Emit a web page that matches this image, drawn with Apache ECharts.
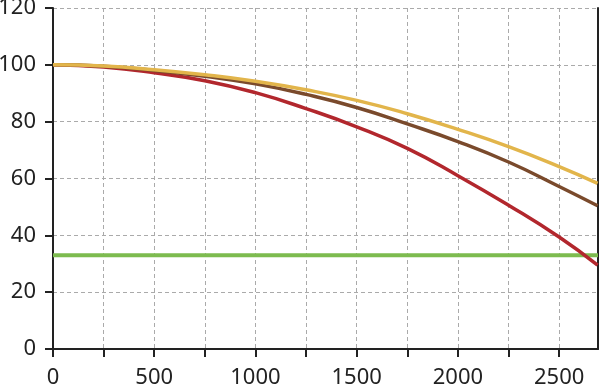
<!DOCTYPE html>
<html>
<head>
<meta charset="utf-8">
<script src="https://cdn.jsdelivr.net/npm/echarts@6/dist/echarts.min.js"></script>
<style>
html,body{margin:0;padding:0;background:#fff;}
#chart{width:600px;height:389px;}
</style>
</head>
<body>
<div id="chart"></div>
<script>
const xValues = [0, 250, 500, 750, 1000, 1250, 1500, 1750, 2000, 2250, 2500, 2690];
const yellowValues = [100, 99.6, 98.3, 96.5, 94.2, 91.2, 87.5, 82.8, 77.3, 71.2, 64.2, 58.3];
const brownValues  = [100, 99.5, 98.0, 96.0, 93.3, 89.6, 85.0, 79.2, 73.0, 65.8, 57.2, 50.4];
const redValues    = [100, 99.2, 97.2, 94.4, 90.2, 84.6, 78.2, 70.6, 61.0, 50.6, 39.4, 29.5];
const greenLevel = 33;
const xTickValues = [0, 250, 500, 750, 1000, 1250, 1500, 1750, 2000, 2250, 2500];
const xLabelValues = [0, 500, 1000, 1500, 2000, 2500];

const XMAX = 2692;
const pair = (vals) => xValues.map((x, i) => [x, vals[i]]);
const font = '"Noto Sans", sans-serif';

const chart = echarts.init(document.getElementById('chart'), null, {renderer: 'canvas'});
const lineStyle = (c, w) => ({color: c, width: w});
chart.setOption({
  animation: false,
  backgroundColor: '#fff',
  grid: {left: 53, right: 2, top: 8, bottom: 40, containLabel: false, outerBoundsMode: 'none'},
  xAxis: {
    type: 'value', min: 0, max: XMAX, interval: 250,
    axisLine: {show: true, onZero: false, lineStyle: {color: '#222', width: 2}},
    axisTick: {show: true, length: 8, customValues: xTickValues, lineStyle: {color: '#222', width: 2}},
    axisLabel: {customValues: xLabelValues, margin: 18, fontSize: 22, color: '#222', fontFamily: font,
      formatter: (v) => String(v)},
    splitLine: {show: true, lineStyle: {color: '#aaa', width: 1, type: [4, 3]}}
  },
  yAxis: [{
    type: 'value', min: 0, max: 120, interval: 20,
    axisLine: {show: true, lineStyle: {color: '#222', width: 2}},
    axisTick: {show: true, length: 8, lineStyle: {color: '#222', width: 2}},
    axisLabel: {margin: 17, fontSize: 22, color: '#222', fontFamily: font, formatter: (v) => String(v)},
    splitLine: {show: true, lineStyle: {color: '#aaa', width: 1, type: [4, 3]}}
  }, {
    type: 'value', min: 0, max: 120, interval: 20, position: 'right',
    axisLine: {show: true, lineStyle: {color: '#222', width: 2}},
    axisTick: {show: false}, axisLabel: {show: false}, splitLine: {show: false}
  }],
  series: [
    {type: 'line', data: [[0, greenLevel], [XMAX, greenLevel]], showSymbol: false, lineStyle: lineStyle('#7dbb4f', 4), z: 2},
    {type: 'line', data: pair(redValues), smooth: 0.5, showSymbol: false, lineStyle: lineStyle('#b2272d', 3.5), z: 3},
    {type: 'line', data: pair(brownValues), smooth: 0.5, showSymbol: false, lineStyle: lineStyle('#7a4a2c', 3.5), z: 4},
    {type: 'line', data: pair(yellowValues), smooth: 0.5, showSymbol: false, lineStyle: lineStyle('#e2b54b', 3.5), z: 5}
  ]
});
</script>
</body>
</html>
